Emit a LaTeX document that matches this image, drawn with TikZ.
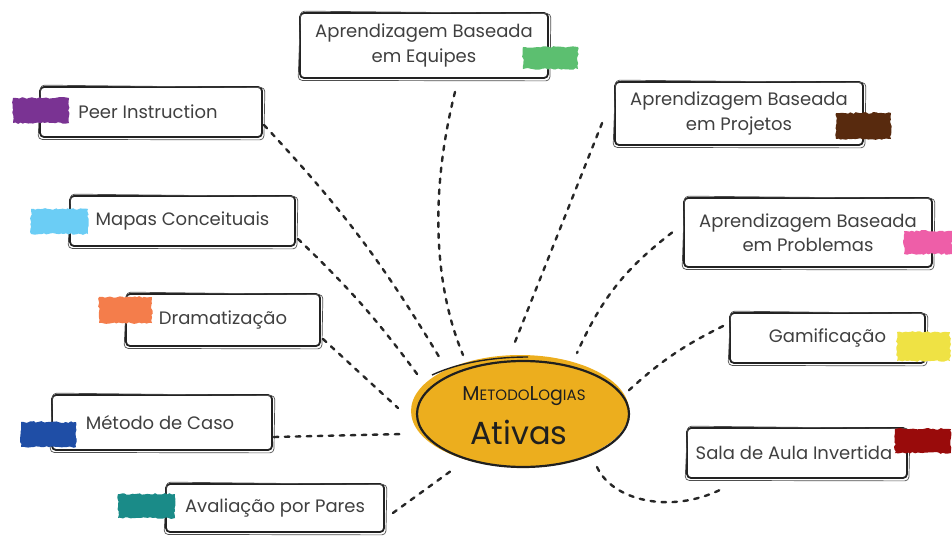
\documentclass[tikz,border=0pt]{standalone}
\usepackage{fontspec}
\setmainfont{Poppins}
\usetikzlibrary{calc,shapes.geometric,decorations.pathmorphing}
\definecolor{boxline}{HTML}{222222}
\definecolor{txt}{HTML}{404040}
\definecolor{ellfill}{HTML}{ECAE1E}
\definecolor{tgreen}{HTML}{5CBF70}
\definecolor{tpurple}{HTML}{7A3393}
\definecolor{tbrown}{HTML}{582A0E}
\definecolor{tlblue}{HTML}{6BCDF5}
\definecolor{tpink}{HTML}{EE5EA8}
\definecolor{torange}{HTML}{F47D4B}
\definecolor{tyellow}{HTML}{EFE244}
\definecolor{tdblue}{HTML}{1F4EA6}
\definecolor{tdred}{HTML}{990B0B}
\definecolor{tteal}{HTML}{1A8B88}
\newcommand\skbox[1]{%
  \draw[boxline!80, line width=0.7pt, rounded corners=4pt]
    ($(#1.north west)+(1.5,-1)$) -- ($(#1.north east)+(2,1.5)$) -- ($(#1.south east)+(1,2)$) -- ($(#1.south west)+(-1,1.5)$) -- cycle;}
\begin{document}
\begin{tikzpicture}[x=1pt,y=-1pt,
  box/.style={draw=boxline, line width=1.8pt, rounded corners=4pt, fill=white,
    inner sep=0pt, text=txt, font=\fontsize{18}{24.5}\selectfont, align=center},
  conn/.style={draw=black!85, line width=2.4pt, dash pattern=on 4.5pt off 6.5pt, line cap=round},
  tagpaint/.style={decorate, decoration={random steps, segment length=2.5pt, amplitude=0.9pt}},
  ctext/.style={text=black!88, inner sep=0pt}]
\useasboundingbox (0,0) rectangle (952,535);

\node[ellipse, fill=ellfill, minimum width=218pt, minimum height=112pt, inner sep=0pt] (c) at (520,411) {};

\node[box, minimum width=248pt, minimum height=65pt] (equipes) at (424,45.5) {Aprendizagem Baseada\\em Equipes};
\node[box, minimum width=222pt, minimum height=50pt] (peer) at (151,112) {\hspace*{-6pt}Peer Instruction};
\node[box, minimum width=248pt, minimum height=63pt] (projetos) at (739,113.5) {Aprendizagem Baseada\\em Projetos};
\node[box, minimum width=225pt, minimum height=50pt] (mapas) at (182.5,221) {Mapas Conceituais};
\node[box, minimum width=248pt, minimum height=69pt] (problemas) at (808,232.5) {Aprendizagem Baseada\\em Problemas};
\node[box, minimum width=194pt, minimum height=52pt] (drama) at (223,320) {Dramatização};
\node[box, minimum width=195pt, minimum height=50pt] (gamif) at (827.5,338) {Gamificação};
\node[box, minimum width=220pt, minimum height=55pt] (metodo) at (162,422.5) {\hspace*{-4pt}Método de Caso};
\node[box, minimum width=220pt, minimum height=50pt] (sala) at (797,453) {\hspace*{-6pt}Sala de Aula Invertida};
\node[box, minimum width=218pt, minimum height=48pt] (aval) at (275,508) {Avaliação por Pares};

\foreach \n in {equipes,peer,projetos,mapas,problemas,drama,gamif,metodo,sala,aval} {\skbox{\n}}

% connectors
\draw[conn] ($(peer.south east)+(1,-13)$) to[bend left=6] ($(c)+(-79,-51)$);
\draw[conn] ($(equipes.south)+(31,13)$) .. controls (428,200) and (436,290) .. ($(c)+(-57,-56)$);
\draw[conn] ($(projetos.west)+(-12,9.5)$) -- ($(c)+(-7,-64)$);
\draw[conn] ($(mapas.south east)+(2,-8)$) to[bend left=5] ($(c)+(-100,-33)$);
\draw[conn] ($(drama.south east)+(2,-8)$) -- ($(c)+(-122,-3)$);
\draw[conn] ($(metodo.east)+(1,14.5)$) -- ($(c)+(-116,23)$);
\draw[conn] ($(aval.east)+(8,5)$) -- ($(c)+(-65,57)$);
\draw[conn] ($(problemas.west)+(-11,0)$) to[bend right=14] ($(c)+(57,-58)$);
\draw[conn] ($(gamif.west)+(-6,-12)$) to[bend right=8] ($(c)+(107,-19)$);
\draw[conn] ($(c)+(77,56)$) .. controls (612,500) and (670,515) .. ($(sala.south west)+(36,10)$);

% centre outline (sketchy)
\draw[black!88, line width=2.2pt] ($(c)+(3,3)$) ellipse [x radius=106, y radius=53];
\draw[black!88, line width=1.4pt] (432,375) .. controls (460,362) and (495,357) .. (528,357);

\node[ctext] (t1) at (524,396) {{\fontsize{20}{22}\selectfont M}{\fontsize{15}{22}\selectfont ETODO}{\fontsize{20}{22}\selectfont L}{\fontsize{15}{22}\selectfont O}{\fontsize{19}{22}\selectfont g}{\fontsize{15}{22}\selectfont IAS}};
\node[ctext, font=\fontsize{32}{36}\selectfont] (t2) at (519,432) {Ativas};

% paint tags
\fill[tgreen, tagpaint] (523,47) rectangle (578,69);
\fill[tpurple, tagpaint] (13,98) rectangle (69,123);
\fill[tbrown, tagpaint] (836,113) rectangle (891,139);
\fill[tlblue, tagpaint] (31,209) rectangle (88,234);
\fill[tpink, tagpaint] (904,231) rectangle (952,254);
\fill[torange, tagpaint] (99,297) rectangle (152,323);
\fill[tyellow, tagpaint] (897,332) rectangle (950,361);
\fill[tdblue, tagpaint] (21,422) rectangle (76,447);
\fill[tdred, tagpaint] (895,429) rectangle (951,453);
\fill[tteal, tagpaint] (118,494) rectangle (175,518);
\end{tikzpicture}
\end{document}
